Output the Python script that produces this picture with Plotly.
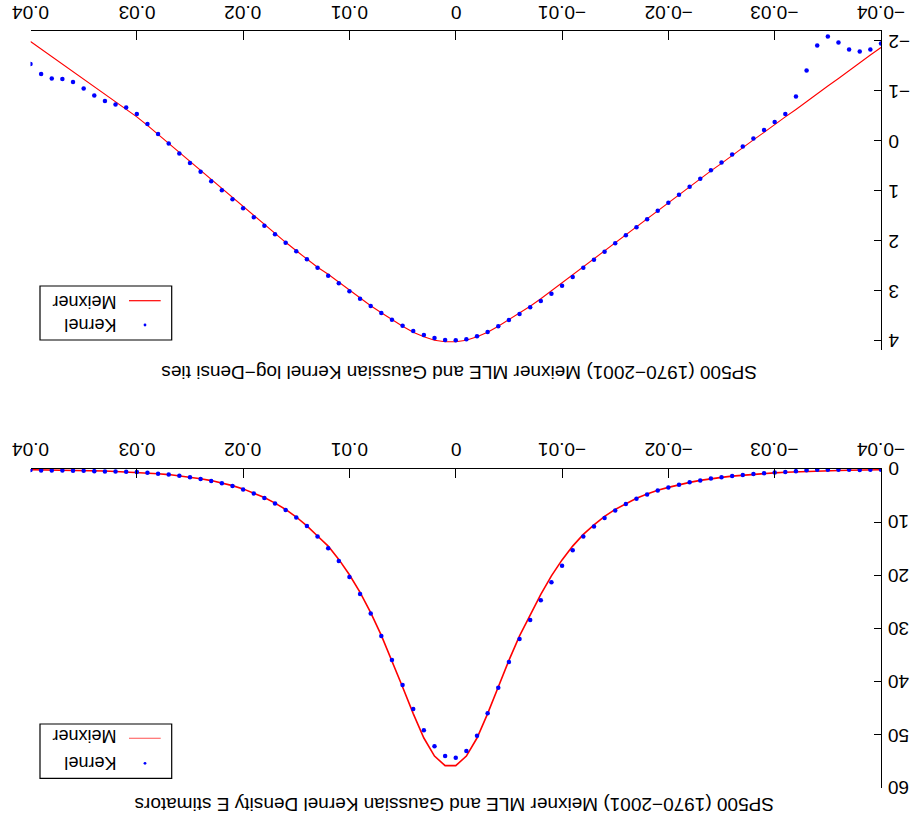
import plotly.graph_objects as go

W, H = 911, 831

# x grid: 0.040 down to -0.040 in steps of 0.001 (81 points)
x_vals = [round(0.04 - 0.001 * i, 3) for i in range(81)]

# log-density (top panel) - Gaussian kernel estimates
kernel_log = [
    -1.54, -1.34, -1.25, -1.24, -1.18, -1.05, -0.91, -0.80, -0.73, -0.67,   # 0.040..0.031
    -0.54, -0.34, -0.14, 0.05, 0.25, 0.44, 0.62, 0.81, 0.99, 1.17,         # 0.030..0.021
    1.35, 1.53, 1.70, 1.87, 2.04, 2.21, 2.37, 2.54, 2.70, 2.851,           # 0.020..0.011
    3.011, 3.159, 3.305, 3.445, 3.580, 3.700, 3.806, 3.886, 3.946, 3.986,  # 0.010..0.001
    3.992,                                                                 # 0
    3.972, 3.912, 3.826, 3.712, 3.586, 3.465, 3.331, 3.205, 3.059, 2.899,  # -0.001..-0.010
    2.725, 2.539, 2.38, 2.22, 2.05, 1.89, 1.73, 1.57, 1.40, 1.24,          # -0.011..-0.020
    1.08, 0.92, 0.76, 0.59, 0.43, 0.27, 0.11, -0.05, -0.22, -0.38,         # -0.021..-0.030
    -0.54, -0.89, -1.41, -1.91, -2.09, -1.97, -1.83, -1.79, -1.83, -1.95,  # -0.031..-0.040
]
# log-density (top panel) - Meixner MLE
meixner_log = [
    -1.99, -1.84, -1.69, -1.54, -1.39, -1.24, -1.09, -0.93, -0.78, -0.63,  # 0.040..0.031
    -0.48, -0.31, -0.13, 0.05, 0.23, 0.42, 0.60, 0.78, 0.96, 1.14,         # 0.030..0.021
    1.32, 1.50, 1.68, 1.86, 2.03, 2.20, 2.37, 2.53, 2.67, 2.83,            # 0.020..0.011
    2.99, 3.14, 3.30, 3.44, 3.58, 3.71, 3.83, 3.92, 3.99, 4.02,            # 0.010..0.001
    4.02,                                                                  # 0
    3.99, 3.92, 3.83, 3.71, 3.58, 3.45, 3.31, 3.16, 3.00, 2.84,            # -0.001..-0.010
    2.67, 2.51, 2.35, 2.19, 2.03, 1.87, 1.71, 1.55, 1.39, 1.24,            # -0.011..-0.020
    1.08, 0.92, 0.76, 0.60, 0.45, 0.29, 0.14, -0.02, -0.17, -0.33,         # -0.021..-0.030
    -0.48, -0.63, -0.79, -0.94, -1.10, -1.25, -1.41, -1.56, -1.72, -1.87,  # -0.031..-0.040
]

# density (bottom panel) - Gaussian kernel estimates
kernel_den = [
    0.21, 0.26, 0.29, 0.29, 0.31, 0.35, 0.40, 0.45, 0.48, 0.51,            # 0.040..0.031
    0.58, 0.71, 0.87, 1.05, 1.28, 1.55, 1.86, 2.25, 2.69, 3.22,            # 0.030..0.021
    3.86, 4.62, 5.47, 6.49, 7.69, 9.12, 10.7, 12.7, 14.9, 17.3,            # 0.020..0.011
    20.3, 23.5, 27.2, 31.41, 35.92, 40.63, 45.14, 49.15, 52.16, 53.98,     # 0.010..0.001
    54.30,                                                                 # 0
    53.04, 50.16, 45.95, 41.13, 36.30, 31.97, 28.40, 24.7, 21.3, 18.2,     # -0.001..-0.010
    15.3, 12.7, 10.8, 9.2, 7.8, 6.6, 5.6, 4.8, 4.06, 3.46,                 # -0.011..-0.020
    2.94, 2.51, 2.14, 1.80, 1.54, 1.31, 1.12, 0.95, 0.80, 0.68,            # -0.021..-0.030
    0.58, 0.41, 0.24, 0.15, 0.12, 0.14, 0.16, 0.17, 0.16, 0.14,            # -0.031..-0.040
]
# density (bottom panel) - Meixner MLE
meixner_den = [
    0.14, 0.16, 0.18, 0.21, 0.25, 0.29, 0.34, 0.39, 0.46, 0.53,            # 0.040..0.031
    0.62, 0.73, 0.88, 1.05, 1.26, 1.52, 1.82, 2.18, 2.61, 3.13,            # 0.030..0.021
    3.74, 4.48, 5.37, 6.42, 7.61, 9.03, 10.7, 12.6, 14.5, 17.0,            # 0.020..0.011
    19.9, 23.2, 27.0, 31.3, 36.0, 41.0, 46.0, 50.6, 54.0, 55.8,            # 0.010..0.001
    55.8,                                                                  # 0
    54.0, 50.6, 46.0, 41.0, 36.0, 31.4, 27.4, 23.6, 20.1, 17.1,            # -0.001..-0.010
    14.5, 12.3, 10.5, 8.9, 7.6, 6.5, 5.5, 4.7, 4.0, 3.46,                  # -0.011..-0.020
    2.94, 2.51, 2.14, 1.82, 1.57, 1.34, 1.15, 0.98, 0.84, 0.72,            # -0.021..-0.030
    0.62, 0.53, 0.45, 0.39, 0.33, 0.29, 0.24, 0.21, 0.18, 0.15,            # -0.031..-0.040
]

x_ticks = [0.04, 0.03, 0.02, 0.01, 0, -0.01, -0.02, -0.03, -0.04]
x_ticktext = ["0.04", "0.03", "0.02", "0.01", "0", "\u22120.01", "\u22120.02", "\u22120.03", "\u22120.04"]
log_ticks = [-2, -1, 0, 1, 2, 3, 4]
log_ticktext = ["\u22122", "\u22121", "0", "1", "2", "3", "4"]
den_ticks = [0, 10, 20, 30, 40, 50, 60]
den_ticktext = ["0", "10", "20", "30", "40", "50", "60"]

title_top = "SP500 (1970\u22122001) Meixner MLE and Gaussian Kernel log\u2212Densi ties"
title_bot = "SP500 (1970\u22122001) Meixner MLE and Gaussian Kernel Density E stimators"
legend_names = ["Meixner", "Kernel"]

FONT = "Liberation Sans, Arial, sans-serif"
TICK_SIZE = 19


def px(xp):
    return xp / W


def py(yp):
    return 1 - yp / H


fig = go.Figure()

# bottom panel (density)
fig.add_trace(go.Scatter(x=x_vals, y=meixner_den, mode="lines", name=legend_names[0],
                         line=dict(color="red", width=1.6), xaxis="x", yaxis="y"))
fig.add_trace(go.Scatter(x=x_vals, y=kernel_den, mode="markers", name=legend_names[1],
                         marker=dict(color="blue", size=4.5), xaxis="x", yaxis="y"))
# top panel (log density)
fig.add_trace(go.Scatter(x=x_vals, y=meixner_log, mode="lines", name=legend_names[0],
                         line=dict(color="red", width=1.1), xaxis="x2", yaxis="y2"))
fig.add_trace(go.Scatter(x=x_vals, y=kernel_log, mode="markers", name=legend_names[1],
                         marker=dict(color="blue", size=4.5), xaxis="x2", yaxis="y2"))

EPS = 1e-7
xdom = [px(30.5), px(881)]
common_x = dict(domain=xdom, range=[0.04 + EPS, -0.04 - EPS], side="top", ticks="inside",
                ticklen=9, tickwidth=1, tickcolor="black", showline=True,
                linecolor="black", linewidth=1, showticklabels=False,
                tickvals=x_ticks, showgrid=False, zeroline=False, automargin=False)
common_y = dict(side="right", ticks="inside", ticklen=7, tickwidth=1,
                tickcolor="black", showline=True, linecolor="black", linewidth=1,
                showticklabels=False, showgrid=False, zeroline=False, automargin=False)

fig.update_layout(
    width=W, height=H,
    margin=dict(l=0, r=0, t=0, b=0),
    paper_bgcolor="white", plot_bgcolor="white",
    template="none",
    showlegend=False,
    xaxis=dict(anchor="y", **common_x),
    yaxis=dict(anchor="x", domain=[py(788), py(469)], range=[60.0001, -0.0001],
               tickvals=den_ticks, **common_y),
    xaxis2=dict(anchor="y2", **common_x),
    yaxis2=dict(anchor="x2", domain=[py(350), py(31)], range=[4.186, -2.2],
                tickvals=log_ticks, **common_y),
)

shapes = []
annotations = []

# tick labels, drawn upside down like the reference
for xref, label_y in (("x", 450), ("x2", 12)):
    for v, t in zip(x_ticks, x_ticktext):
        annotations.append(dict(text=t, xref=xref, yref="paper", x=v, y=py(label_y),
                                showarrow=False, textangle=180, xanchor="center",
                                yanchor="middle",
                                font=dict(family=FONT, size=TICK_SIZE, color="black")))
for yref, vals, texts in (("y", den_ticks, den_ticktext), ("y2", log_ticks, log_ticktext)):
    for v, t in zip(vals, texts):
        annotations.append(dict(text=t, xref="paper", yref=yref, x=px(886.5), y=v,
                                showarrow=False, textangle=180, xanchor="left",
                                yanchor="middle",
                                font=dict(family=FONT, size=TICK_SIZE, color="black")))


def add_legend(top, bottom, line_y, dot_y, text1_y, text2_y, line_color):
    shapes.append(dict(type="rect", xref="paper", yref="paper",
                       x0=px(40), x1=px(171.7), y0=py(bottom), y1=py(top),
                       line=dict(color="black", width=1.2)))
    shapes.append(dict(type="line", xref="paper", yref="paper",
                       x0=px(129), x1=px(160.7), y0=py(line_y), y1=py(line_y),
                       line=dict(color=line_color, width=1.2)))
    shapes.append(dict(type="circle", xref="paper", yref="paper",
                       x0=px(143.6), x1=px(146.4), y0=py(dot_y + 1.4), y1=py(dot_y - 1.4),
                       fillcolor="blue", line=dict(color="blue", width=0)))
    annotations.append(dict(text=legend_names[0], xref="paper", yref="paper",
                            x=px(84.3), y=py(text1_y), showarrow=False, textangle=180,
                            xanchor="center", yanchor="middle",
                            font=dict(family=FONT, size=18, color="black")))
    annotations.append(dict(text=legend_names[1], xref="paper", yref="paper",
                            x=px(90.2), y=py(text2_y), showarrow=False, textangle=180,
                            xanchor="center", yanchor="middle",
                            font=dict(family=FONT, size=18, color="black")))


add_legend(286, 340, 300.7, 325, 302, 325, "red")
add_legend(724, 778.3, 738.3, 763.3, 736.7, 763, "rgba(255,60,60,0.75)")

annotations.append(dict(text=title_top, xref="paper", yref="paper",
                        x=px(459), y=py(372), showarrow=False, textangle=180,
                        xanchor="center", yanchor="middle",
                        font=dict(family=FONT, size=19, color="black")))
annotations.append(dict(text=title_bot, xref="paper", yref="paper",
                        x=px(455), y=py(805), showarrow=False, textangle=180,
                        xanchor="center", yanchor="middle",
                        font=dict(family=FONT, size=19, color="black")))

fig.update_layout(shapes=shapes, annotations=annotations)

fig.write_html("out.html")
